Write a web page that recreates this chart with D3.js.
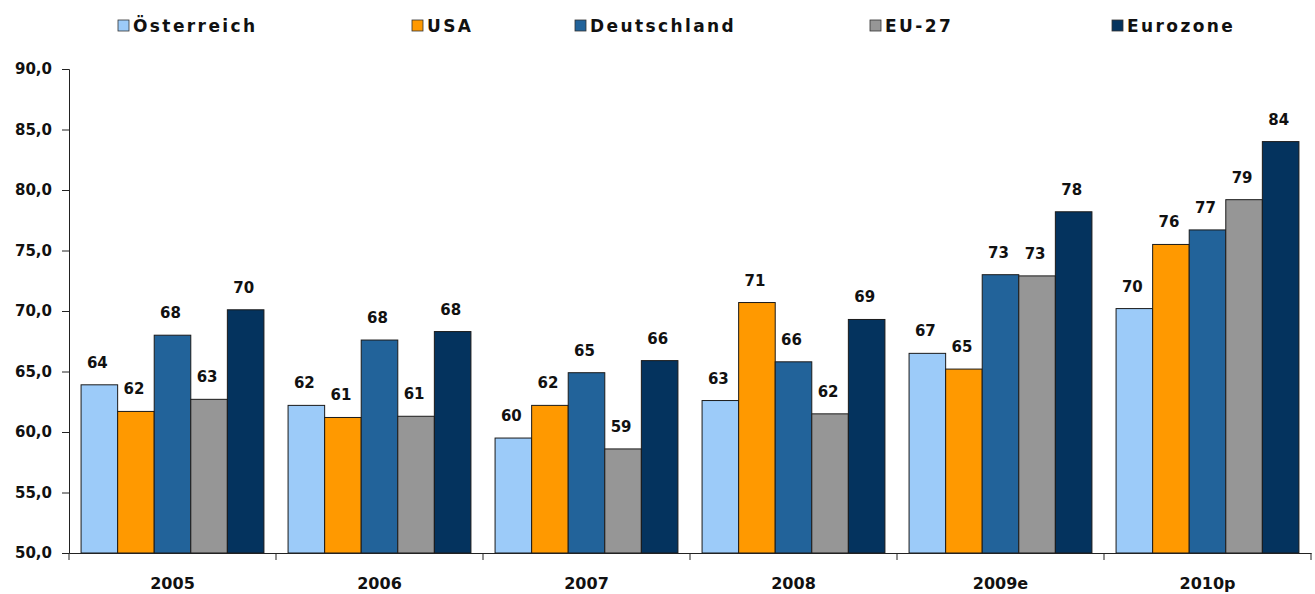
<!DOCTYPE html>
<html>
<head>
<meta charset="utf-8">
<script src="https://cdn.jsdelivr.net/npm/d3@7/dist/d3.min.js"></script>
<style>
  body { margin: 0; background: #fff; }
  text { font-family: "DejaVu Sans", "Liberation Sans", sans-serif; font-weight: bold; fill: #111; }
</style>
</head>
<body>
<div id="app"></div>
<script>
const years = ['2005', '2006', '2007', '2008', '2009e', '2010p'];
const series = ['Österreich', 'USA', 'Deutschland', 'EU-27', 'Eurozone'];
const colors = ['#9ccbf9', '#ff9900', '#22639a', '#969696', '#04335e'];

const oesterreich = [63.9, 62.2, 59.5, 62.6, 66.5, 70.2];
const usa = [61.7, 61.2, 62.2, 70.7, 65.2, 75.5];
const deutschland = [68.0, 67.6, 64.9, 65.8, 73.0, 76.7];
const eu27 = [62.7, 61.3, 58.6, 61.5, 72.9, 79.2];
const eurozone = [70.1, 68.3, 65.9, 69.3, 78.2, 84.0];

const yTicks = [50, 55, 60, 65, 70, 75, 80, 85, 90];

const values = [oesterreich, usa, deutschland, eu27, eurozone];

const width = 1315;
const height = 594;
const margin = { top: 69, right: 4, bottom: 41, left: 69 };
// legend swatch positions, as placed in the original
const legendX = [118, 412, 575, 870, 1112];

const svg = d3.select('#app').append('svg')
  .attr('width', width)
  .attr('height', height);

const x0 = d3.scaleBand()
  .domain(years)
  .range([margin.left, width - margin.right])
  .padding(0);

const x1 = d3.scaleBand()
  .domain(series)
  .range([0, x0.bandwidth()])
  .paddingInner(0)
  .paddingOuter(0.33);

const y = d3.scaleLinear()
  .domain([50, 90])
  .range([height - margin.bottom, margin.top]);

const color = d3.scaleOrdinal().domain(series).range(colors);

// bars
const groups = svg.append('g').selectAll('g')
  .data(years)
  .enter().append('g')
  .attr('transform', d => `translate(${x0(d)},0)`);

const cells = groups.selectAll('g')
  .data((yr, i) => series.map((s, j) => ({ s, v: values[j][i] })))
  .enter().append('g');

cells.append('rect')
  .attr('x', d => x1(d.s))
  .attr('y', d => y(d.v))
  .attr('width', x1.bandwidth())
  .attr('height', d => y(50) - y(d.v))
  .attr('fill', d => color(d.s))
  .attr('stroke', '#1a1a1a')
  .attr('stroke-width', 1);

cells.append('text')
  .attr('x', d => x1(d.s) + x1.bandwidth() / 2 - 2)
  .attr('y', d => y(d.v) - 17)
  .attr('text-anchor', 'middle')
  .style('font-size', '15px')
  .text(d => d3.format('.0f')(d.v));

// y axis
const yAxis = svg.append('g')
  .attr('transform', `translate(${margin.left},0)`)
  .call(d3.axisLeft(y)
    .tickValues(yTicks)
    .tickSize(7)
    .tickPadding(10)
    .tickFormat(d => d3.format('.1f')(d).replace('.', ',')));
yAxis.select('.domain').attr('stroke', '#222');
yAxis.selectAll('.tick line').attr('stroke', '#222');
yAxis.selectAll('.tick text')
  .style('font-size', '15px')
  .style('font-family', '"DejaVu Sans", sans-serif')
  .style('font-weight', 'bold')
  .attr('fill', '#111');

// x axis
const xAxis = svg.append('g')
  .attr('transform', `translate(0,${y(50)})`)
  .call(d3.axisBottom(x0).tickSize(0).tickPadding(25));
xAxis.select('.domain').attr('stroke', '#222');
xAxis.selectAll('.tick text')
  .style('font-size', '16px')
  .style('font-family', '"DejaVu Sans", sans-serif')
  .style('font-weight', 'bold')
  .attr('fill', '#111');

xAxis.selectAll('line.sep')
  .data([...years.map(d => x0(d)), x0.range()[1]])
  .enter().append('line')
  .attr('class', 'sep')
  .attr('x1', d => d).attr('x2', d => d)
  .attr('y1', 0).attr('y2', 7)
  .attr('stroke', '#222');

// legend
const legend = svg.append('g').selectAll('g')
  .data(series)
  .enter().append('g')
  .attr('transform', (d, i) => `translate(${legendX[i]},0)`);

legend.append('rect')
  .attr('x', 0).attr('y', 20)
  .attr('width', 11).attr('height', 11)
  .attr('fill', d => color(d))
  .attr('stroke', '#333')
  .attr('stroke-width', 0.8);

legend.append('text')
  .attr('x', 15).attr('y', 32)
  .style('font-size', '17px')
  .style('letter-spacing', '2.4px')
  .text(d => d);
</script>
</body>
</html>
